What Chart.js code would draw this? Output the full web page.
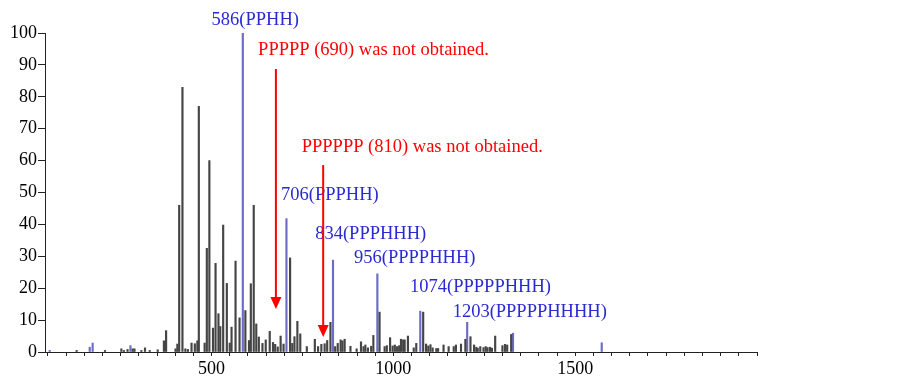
<!DOCTYPE html>
<html>
<head>
<meta charset="utf-8">
<script src="https://cdn.jsdelivr.net/npm/chart.js@4/dist/chart.umd.min.js"></script>
<style>
  html, body { margin: 0; padding: 0; background: #fff; }
  #wrap { width: 902px; height: 381px; }
</style>
</head>
<body>
<div id="wrap"><canvas id="spectrum" width="902" height="381"></canvas></div>
<script>
// peaks (m/z, relative intensity)
const otherMz = [129, 207, 252, 259, 269, 283, 288, 307, 317, 330, 352, 369, 375, 401, 406, 411, 420, 428, 435, 445,
  454, 461, 465, 481, 487, 494, 504, 511, 519, 524, 532, 542, 550, 555, 566, 577, 593, 603, 608, 616,
  623, 630, 640, 649, 660, 669, 675, 682, 690, 698, 716, 722, 728, 736, 744, 762, 784, 793, 802, 811,
  818, 827, 840, 847, 855, 860, 866, 882, 899, 911, 918, 923, 930, 939, 945, 962, 976, 982, 991, 998,
  1004, 1010, 1016, 1021, 1027, 1031, 1040, 1056, 1063, 1082, 1090, 1096, 1102, 1108, 1118, 1123, 1138, 1152, 1166, 1172,
  1186, 1198, 1212, 1222, 1228, 1232, 1239, 1248, 1254, 1259, 1266, 1271, 1280, 1300, 1307, 1313, 1324];
const otherInt = [0.5, 0.5, 1, 0.5, 0.8, 1, 1, 0.5, 1.3, 0.5, 0.7, 3.5, 6.7, 1, 2.5, 46, 83, 1, 0.8, 2.8,
  2.6, 3.5, 77, 2.8, 32.5, 60, 7.5, 27.8, 12, 8, 39.8, 21.5, 2.8, 7.8, 28.5, 10.7, 13, 3.6, 21.4, 46,
  8.8, 4.7, 2.7, 3.8, 6.5, 3, 2.4, 1.6, 5, 2.5, 29.5, 2.7, 4.8, 9.6, 5.7, 1.7, 4, 1.7, 2.4, 2.6,
  3.6, 9.3, 1.7, 2.7, 3.8, 3.5, 4, 1.8, 1, 3.2, 1.7, 2.2, 1.3, 1.8, 5.2, 12.5, 1.7, 2, 4.5, 1.9,
  2.2, 1.7, 2, 4, 3.8, 3.8, 5, 1.3, 2.7, 12.5, 2.5, 1.9, 2.3, 1.3, 1.1, 1.1, 2.2, 1.7, 1.7, 2.2,
  2.5, 4, 4.8, 2.2, 1.5, 1.2, 1.7, 1.4, 1.7, 1.4, 1.5, 1.2, 5, 2, 2.4, 2.2, 5.5];

// assigned peaks (blue)
const assignedMz = [55, 165, 173, 277, 586, 706, 834, 956, 1074, 1203, 1329, 1573];
const assignedInt = [0.5, 1.5, 2.8, 2, 100, 41.8, 28.8, 24.5, 12.8, 9.3, 5.9, 2.9];

// peak labels: text, left edge (m/z), vertical middle (intensity)
const peakLabels = ['586(PPHH)', '706(PPPHH)', '834(PPPHHH)', '956(PPPPHHH)', '1074(PPPPPHHH)', '1203(PPPPPHHHH)'];
const peakLabelX = [500, 691, 785, 892, 1046, 1163];
const peakLabelY = [104, 49.2, 37, 29.4, 20.2, 12.6];

// missing products: arrow m/z, arrow top, arrow tip, note text start
const missingNotes = ['PPPPP (690) was not obtained.', 'PPPPPP (810) was not obtained.'];
const arrowMz = [677, 807];
const arrowTop = [88.7, 58.6];
const arrowTip = [13.5, 4.7];
const noteX = [628, 748];
const noteY = [94.5, 64.3];

const xLabeled = [500, 1000, 1500];
const yTicks = [0, 10, 20, 30, 40, 50, 60, 70, 80, 90, 100];

const serif = '"Liberation Serif", "Times New Roman", serif';

function toPoints(xs, ys) {
    return xs.map((x, i) => ({ x: x, y: ys[i] }));
}

const annotations = {
    id: 'annotations',
    afterDatasetsDraw(chart) {
        const ctx = chart.ctx;
        const xs = chart.scales.x;
        const ys = chart.scales.y;
        ctx.save();
        ctx.font = '18.5px ' + serif;
        ctx.textBaseline = 'middle';
        ctx.textAlign = 'left';

        // blue assignments
        ctx.fillStyle = '#2a2ad2';
        peakLabels.forEach((t, i) => {
            ctx.fillText(t, xs.getPixelForValue(peakLabelX[i]), ys.getPixelForValue(peakLabelY[i]));
        });

        // red arrows + notes
        ctx.fillStyle = '#ff0000';
        ctx.strokeStyle = '#ff0000';
        ctx.lineWidth = 2;
        missingNotes.forEach((t, i) => {
            ctx.fillText(t, xs.getPixelForValue(noteX[i]), ys.getPixelForValue(noteY[i]));
            const px = xs.getPixelForValue(arrowMz[i]);
            const top = ys.getPixelForValue(arrowTop[i]);
            const tip = ys.getPixelForValue(arrowTip[i]);
            ctx.beginPath();
            ctx.moveTo(px, top);
            ctx.lineTo(px, tip - 10);
            ctx.stroke();
            ctx.beginPath();
            ctx.moveTo(px - 5.5, tip - 12);
            ctx.lineTo(px + 5.5, tip - 12);
            ctx.lineTo(px, tip);
            ctx.closePath();
            ctx.fill();
        });
        ctx.restore();
    }
};

new Chart(document.getElementById('spectrum'), {
    type: 'bar',
    data: {
        datasets: [{
            data: toPoints(otherMz, otherInt),
            backgroundColor: '#454545',
            barThickness: 1.5,
            grouped: false
        }, {
            data: toPoints(assignedMz, assignedInt),
            backgroundColor: '#6c6cc8',
            barThickness: 1.5,
            grouped: false
        }]
    },
    options: {
        responsive: false,
        animation: false,
        layout: { padding: { left: 0, right: 145, top: 33, bottom: 0 } },
        plugins: { legend: { display: false }, tooltip: { enabled: false } },
        scales: {
            x: {
                type: 'linear',
                min: 42,
                max: 2000,
                offset: false,
                afterBuildTicks: (s) => {
                    const t = [];
                    for (let v = 50; v <= 2000; v += 50) t.push({ value: v });
                    s.ticks = t;
                },
                afterFit: (s) => { s.height = 29; },
                grid: { display: true, drawOnChartArea: false, offset: false, tickLength: 4, color: '#222', lineWidth: 1 },
                border: { color: '#222', width: 1 },
                ticks: {
                    autoSkip: false,
                    maxRotation: 0,
                    padding: 2,
                    color: '#000',
                    font: { family: serif, size: 18 },
                    callback: (v) => xLabeled.includes(v) ? String(v) : ''
                }
            },
            y: {
                min: 0,
                max: 100,
                afterBuildTicks: (s) => { s.ticks = yTicks.map(v => ({ value: v })); },
                afterFit: (s) => { s.width = 45; },
                grid: { display: true, drawOnChartArea: false, tickLength: 7, color: '#222', lineWidth: 1 },
                border: { color: '#222', width: 1 },
                ticks: {
                    padding: 1,
                    color: '#000',
                    font: { family: serif, size: 18 }
                }
            }
        }
    },
    plugins: [annotations]
});
</script>
</body>
</html>
